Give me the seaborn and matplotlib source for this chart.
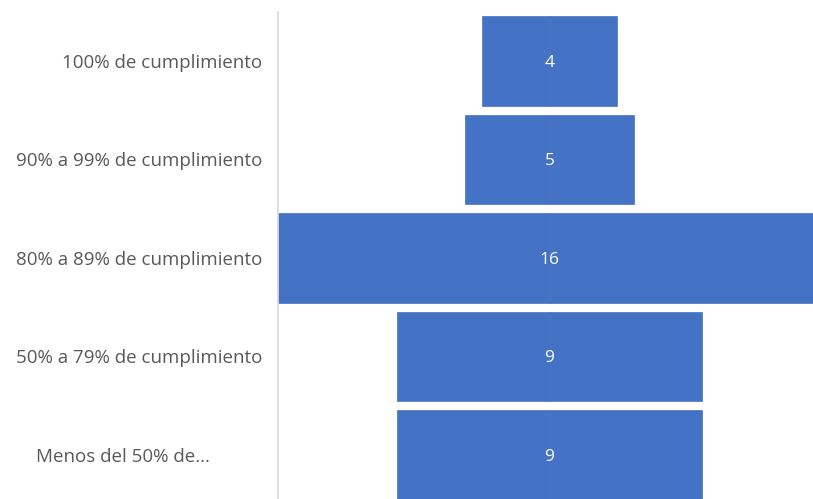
import pandas as pd
import seaborn as sns
import matplotlib.pyplot as plt

# Data
categories = ["100% de cumplimiento", "90% a 99% de cumplimiento", "80% a 89% de cumplimiento",
              "50% a 79% de cumplimiento", "Menos del 50% de..."]
values = [4, 5, 16, 9, 9]

df = pd.DataFrame({"cat": categories, "val": values})
df["half"] = df["val"] / 2
df["neg"] = -df["val"] / 2

sns.set_style("white")
plt.rcParams["font.family"] = ["Open Sans", "DejaVu Sans"]

bar_color = "#4472C4"
label_color = "#595959"

fig = plt.figure(figsize=(8.13, 4.99), dpi=100)
# axes runs a bit past the right/bottom edge, like the cropped original
ax_w = 543
ax = fig.add_axes([278 / 813, -0.0105, ax_w / 813, 0.987])

# funnel: two halves around zero
sns.barplot(ax=ax, data=df, x="half", y="cat", orient="h", color=bar_color,
            saturation=1, width=0.91, edgecolor=bar_color, linewidth=0.5)
sns.barplot(ax=ax, data=df, x="neg", y="cat", orient="h", color=bar_color,
            saturation=1, width=0.91, edgecolor=bar_color, linewidth=0.5)

ax.set_xlim(-8, 8)
ax.set_ylim(4.5, -0.5)
ax.set_xticks([])
ax.set_yticks([])
ax.set_xlabel("")
ax.set_ylabel("")

for s in ["top", "right", "bottom"]:
    ax.spines[s].set_visible(False)
ax.spines["left"].set_color("#d9d9d9")
ax.spines["left"].set_linewidth(1.2)

# value labels
for i, v in enumerate(values):
    ax.text(0, i + 0.02, str(v), ha="center", va="center", color="white", fontsize=12.5)

# category labels
trans = ax.get_yaxis_transform()
for i, c in enumerate(categories):
    xpos = -16 / ax_w if i < len(categories) - 1 else -68 / ax_w
    ax.text(xpos, i + 0.02, c, transform=trans, ha="right", va="center",
            color=label_color, fontsize=13.5)

fig.savefig("out.png", dpi=100)
